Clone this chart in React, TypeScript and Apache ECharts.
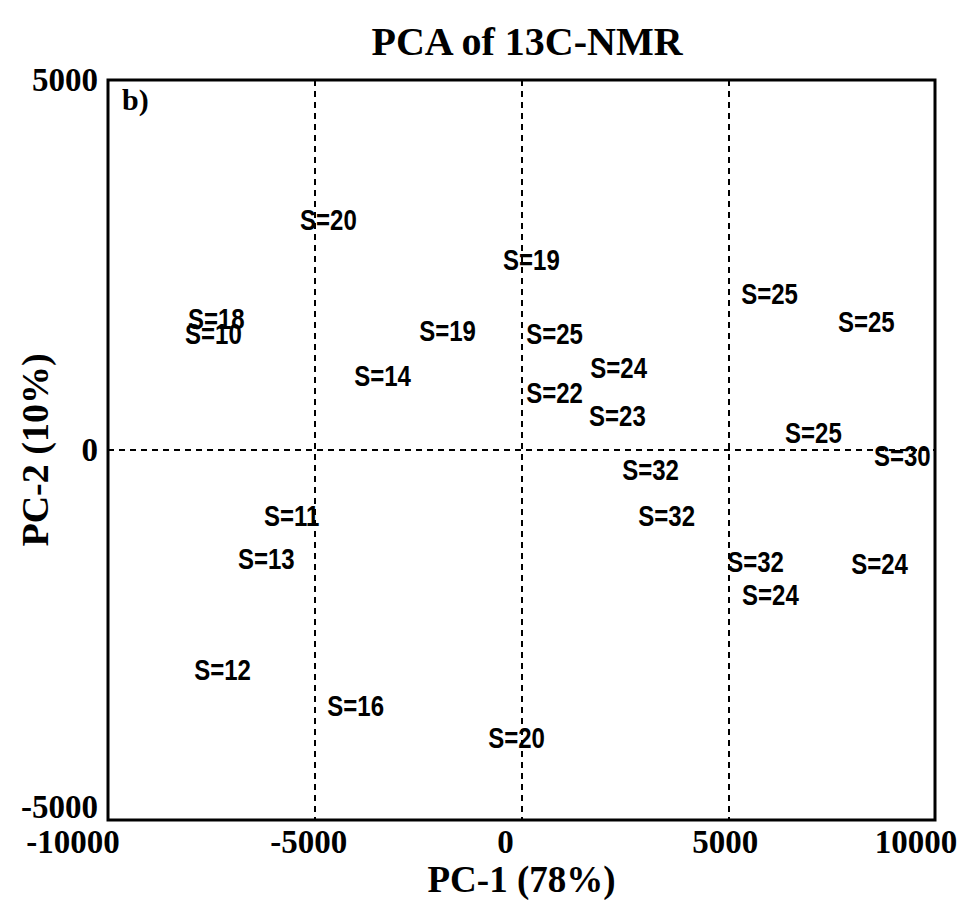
import React, { useEffect, useRef } from "react";
import * as echarts from "echarts";

// PCA scores of the 13C-NMR spectra, labelled by sample S value
const sValues = [20, 19, 25, 25, 18, 10, 19, 25, 14, 24, 22, 23, 25, 30, 32, 32, 11, 13, 32, 24, 24, 12, 16, 20];
const pc1 = [-4670, 240, 6000, 8340, -7380, -7450, -1790, 800, -3360, 2350, 800, 2320, 7060, 9210, 3120, 3510, -5560, -6170, 5660, 8660, 6020, -7230, -4010, -120];
const pc2 = [3110, 2580, 2120, 1740, 1780, 1570, 1610, 1580, 1000, 1120, 780, 470, 230, -70, -260, -880, -880, -1460, -1510, -1540, -1950, -2960, -3450, -3880];

const xTicks = [-10000, -5000, 0, 5000, 10000];
const yTicks = [-5000, 0, 5000];

const serif = "'Liberation Serif', 'DejaVu Serif', serif";
const sans = "'Liberation Sans', Arial, sans-serif";

// per-tick right padding nudges each x label a little to the left
const xLabelShift = [70, 12, 32, 6, 38];
// bottom padding lifts the lowest y label clear of the x labels
const yLabelLift = [26, 0, 0];

export default function App() {
  const ref = useRef<HTMLDivElement>(null);

  useEffect(() => {
    if (!ref.current) return;
    const chart = echarts.init(ref.current, null, { renderer: "svg" });
    const data = pc1.map((x, i) => [x, pc2[i], sValues[i]]);
    const tickFont = { fontFamily: serif, fontWeight: "bold", fontSize: 33, color: "#000" };
    const xRich: Record<string, any> = {};
    xTicks.forEach((_, i) => {
      xRich["t" + i] = { ...tickFont, padding: [0, xLabelShift[i], 0, 0] };
    });
    const yRich: Record<string, any> = {};
    yTicks.forEach((_, i) => {
      yRich["t" + i] = { ...tickFont, padding: [0, 0, yLabelLift[i], 0] };
    });
    chart.setOption({
      animation: false,
      backgroundColor: "#fff",
      title: {
        text: "PCA of 13C-NMR",
        left: 522,
        textAlign: "center",
        top: 16,
        textStyle: { fontFamily: serif, fontWeight: "bold", fontSize: 40, color: "#000" },
      },
      graphic: [
        {
          type: "text",
          left: 122,
          top: 84,
          style: { text: "b)", font: `bold 30px ${serif}`, fill: "#000" },
        },
      ],
      grid: {
        left: 108,
        right: 29,
        top: 80,
        bottom: 80,
        show: true,
        borderColor: "#000",
        borderWidth: 3,
        containLabel: false,
        outerBoundsMode: "none",
      },
      xAxis: {
        type: "value",
        min: xTicks[0],
        max: xTicks[xTicks.length - 1],
        interval: 5000,
        name: "PC-1 (78%)",
        nameLocation: "middle",
        nameGap: 41,
        nameMoveOverlap: false,
        nameTextStyle: { fontFamily: serif, fontWeight: "bold", fontSize: 37, color: "#000" },
        axisLine: { show: false },
        axisTick: { show: false },
        axisLabel: {
          margin: 5,
          formatter: (v: number) => `{t${xTicks.indexOf(v)}|${v}}`,
          rich: xRich,
        },
        splitLine: { show: true, lineStyle: { color: "#000", width: 2, type: [6, 5] } },
      },
      yAxis: {
        type: "value",
        min: yTicks[0],
        max: yTicks[yTicks.length - 1],
        interval: 5000,
        name: "PC-2 (10%)",
        nameLocation: "middle",
        nameGap: 54,
        nameMoveOverlap: false,
        nameTextStyle: { fontFamily: serif, fontWeight: "bold", fontSize: 38, color: "#000" },
        axisLine: { show: false },
        axisTick: { show: false },
        axisLabel: {
          margin: 10,
          formatter: (v: number) => `{t${yTicks.indexOf(v)}|${v}}`,
          rich: yRich,
        },
        splitLine: { show: true, lineStyle: { color: "#000", width: 2, type: [6, 5] } },
      },
      series: [
        {
          type: "custom",
          data,
          renderItem: (params: any, api: any) => {
            const p = api.coord([api.value(0), api.value(1)]);
            return {
              type: "text",
              x: p[0],
              y: p[1],
              scaleX: 0.8,
              style: {
                text: `S=${api.value(2)}`,
                font: `bold 30px ${sans}`,
                fill: "#000",
                align: "center",
                verticalAlign: "middle",
              },
            };
          },
        },
      ],
    });
    return () => chart.dispose();
  }, []);

  return (
    <div
      ref={ref}
      style={{ position: "absolute", left: 0, top: 0, width: 964, height: 900, background: "#fff" }}
    />
  );
}
